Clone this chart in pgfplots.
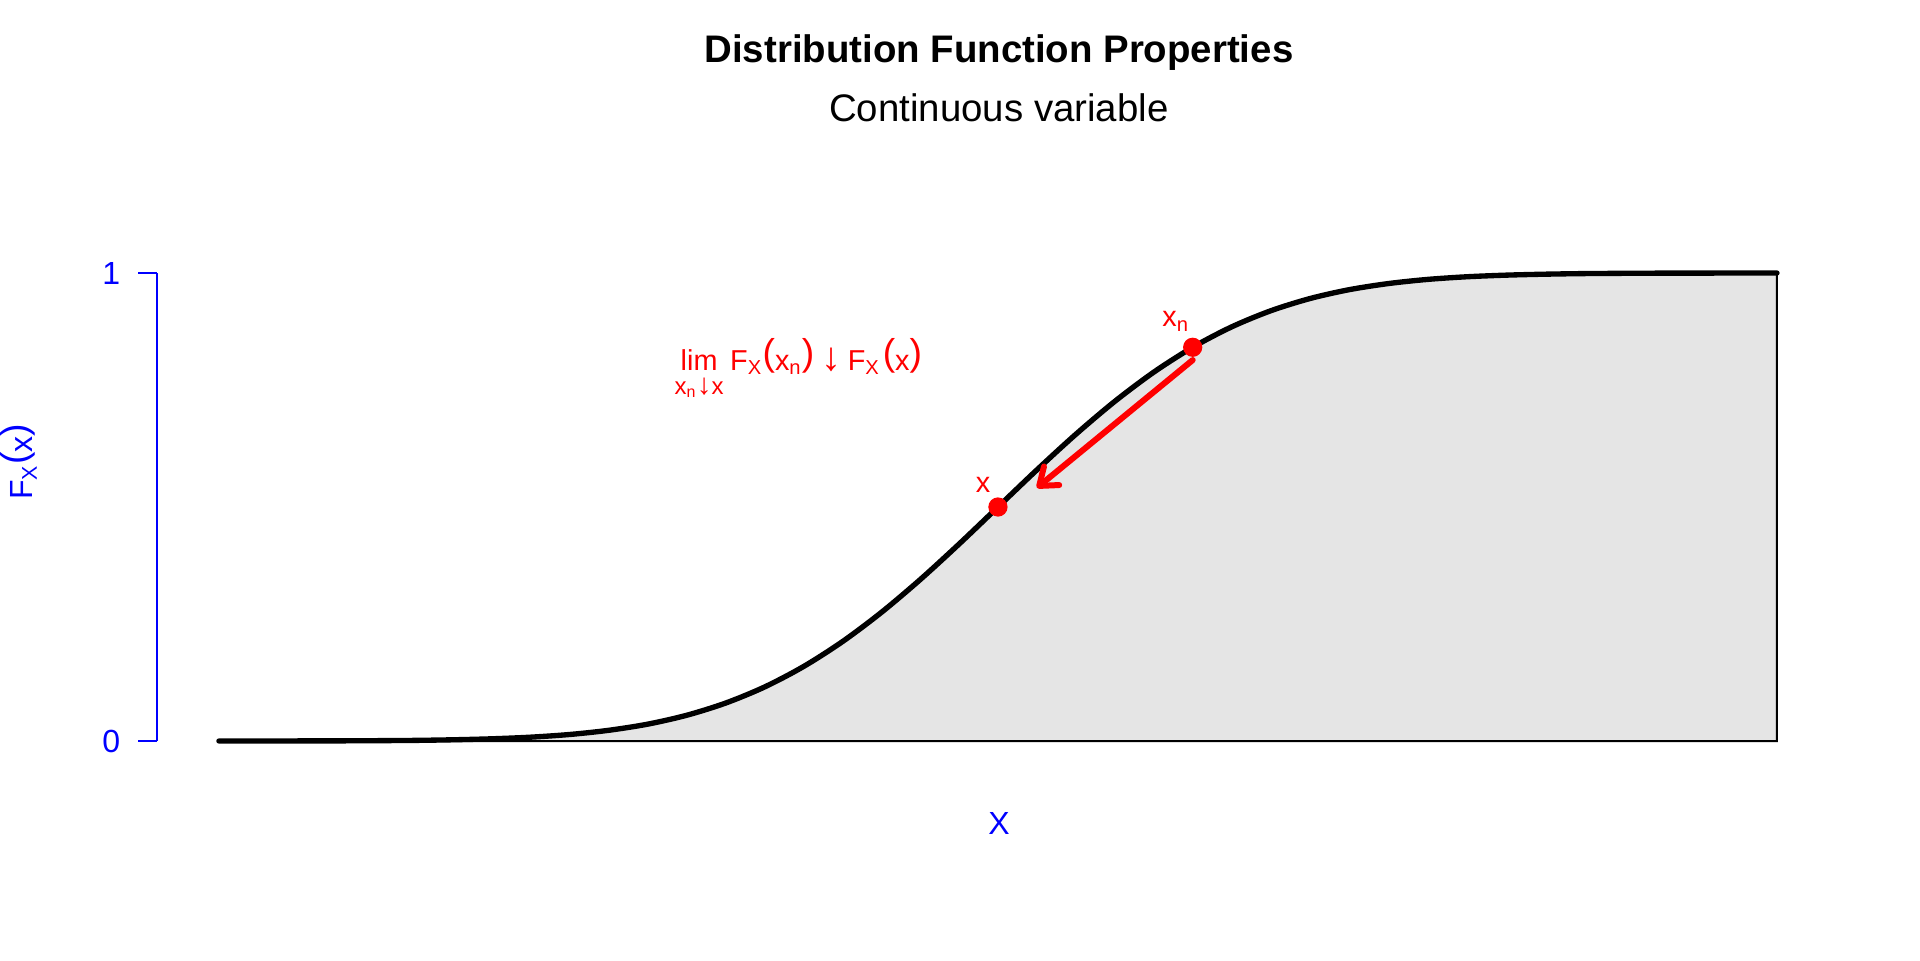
\documentclass[border=0pt]{standalone}
\usepackage{fontspec}
\setmainfont{Liberation Sans}
\usepackage{pgfplots}
\pgfplotsset{compat=1.18}
\usepackage{pgfplotstable}
\usetikzlibrary{arrows.meta}

\definecolor{fillgrey}{HTML}{E5E5E5}
\definecolor{rred}{HTML}{FF0000}
\definecolor{rblue}{HTML}{0000FF}

\newcommand{\bigp}[1]{\raisebox{1.6pt}{\fontsize{14}{14}\selectfont #1}}

% standard normal cdf
\pgfplotstableread{
x F
-4.0 0.0000
-3.8 0.0001
-3.6 0.0002
-3.4 0.0003
-3.2 0.0007
-3.0 0.0013
-2.8 0.0026
-2.6 0.0047
-2.4 0.0082
-2.2 0.0139
-2.0 0.0228
-1.8 0.0359
-1.6 0.0548
-1.4 0.0808
-1.2 0.1151
-1.0 0.1587
-0.8 0.2119
-0.6 0.2743
-0.4 0.3446
-0.2 0.4207
0.0 0.5000
0.2 0.5793
0.4 0.6554
0.6 0.7257
0.8 0.7881
1.0 0.8413
1.2 0.8849
1.4 0.9192
1.6 0.9452
1.8 0.9641
2.0 0.9772
2.2 0.9861
2.4 0.9918
2.6 0.9953
2.8 0.9974
3.0 0.9987
3.2 0.9993
3.4 0.9997
3.6 0.9998
3.8 0.9999
4.0 1.0000
}\cdf

\begin{document}
\begin{tikzpicture}
\useasboundingbox (0,0) rectangle (720pt,360pt);
\begin{axis}[
    at={(58.875pt,82.125pt)}, anchor=south west,
    scale only axis,
    width=630.7pt, height=175.5pt,
    xmin=-4.318, xmax=4.318,
    ymin=0, ymax=1,
    axis x line=none,
    axis y line*=left,
    y axis line style={rblue, line width=0.75pt, -},
    ytick={0,1},
    tick align=outside,
    major tick length=7.1pt,
    ytick style={rblue, line width=0.75pt},
    yticklabel style={rblue, font=\fontsize{12}{14}\selectfont, xshift=-3.2pt},
    /pgf/number format/assume math mode=true,
    clip=false,
]

    % shaded area under the curve
    \addplot[fill=fillgrey, draw=black, line width=0.75pt] table[x=x, y=F] {\cdf} \closedcycle;

    % the cdf
    \addplot[black, line width=2pt, smooth, line cap=round] table[x=x, y=F] {\cdf};

    % arrow x_n -> x
    \draw[rred, line width=2.25pt, line cap=round,
        -{Straight Barb[length=6pt, width=9pt, round]}]
        (axis cs:1.0,0.814) -- (axis cs:0.2,0.541);

    % the two points
    \addplot[only marks, mark=*, mark size=3.4pt, rred] coordinates {(0,0.5000) (1,0.8413)};

    \node[rred, anchor=base, inner sep=0pt, font=\fontsize{10.8}{12}\selectfont]
        at (axis cs:-0.077,0.530) {x};
    \node[rred, anchor=base west, inner sep=0pt, font=\fontsize{10.8}{12}\selectfont]
        at (axis cs:0.842,0.885) {x\textsubscript{n}};

\end{axis}

% limit annotation
\node[rred, anchor=base west, inner sep=0pt, font=\fontsize{10.8}{12}\selectfont]
    at (252.8pt,221.25pt)
    {\begin{tabular}[t]{@{}c@{}}lim\\[-2.8pt]{\fontsize{9}{10}\selectfont x\textsubscript{n}{\fontsize{11}{11}\selectfont↓}x}\end{tabular}\hspace{2.5pt}F\textsubscript{X}\bigp{(}x\textsubscript{n}\bigp{)}\hspace{2.5pt}{\fontsize{15}{15}\selectfont↓}\hspace{2.5pt}F\textsubscript{X}\hspace{1pt}\bigp{(}x\bigp{)}};

% titles
\node[anchor=base, inner sep=0pt, font=\fontsize{14.4}{17}\selectfont\bfseries]
    at (374.6pt,336.6pt) {Distribution Function Properties};
\node[anchor=base, inner sep=0pt, font=\fontsize{14.4}{17}\selectfont]
    at (374.6pt,314.4pt) {Continuous variable};

% axis titles
\node[rblue, anchor=base, inner sep=0pt, font=\fontsize{12}{14}\selectfont]
    at (374.6pt,47.25pt) {X};
\node[rblue, rotate=90, inner sep=0pt, font=\fontsize{12}{14}\selectfont]
    at (7.1pt,186.75pt) {F\textsubscript{X}\bigp{(}x\bigp{)}};
\end{tikzpicture}
\end{document}
